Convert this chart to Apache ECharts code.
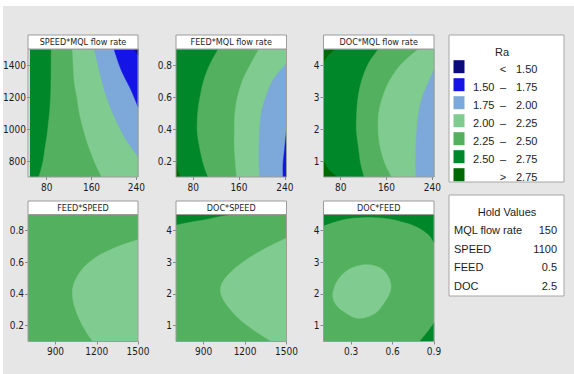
<!DOCTYPE html>
<html>
<head>
<meta charset="utf-8">
<script src="https://cdn.jsdelivr.net/npm/echarts@6/dist/echarts.min.js"></script>
<style>
  html, body { margin: 0; padding: 0; background: #fff; }
  #chart { width: 574px; height: 374px; }
</style>
</head>
<body>
<div id="chart"></div>
<script>
// contour colours, low Ra -> high Ra
const navy = "#0b0b7a", blue = "#1414e6", lblue = "#7ca8da", lgreen = "#80cb8f",
  mgreen = "#53b05e", green = "#008729", dgreen = "#006805";

// axis ranges and ticks
const mqlRange = [50, 243], speedRange = [700, 1500], feedRange = [0.1, 0.9], docRange = [0.5, 4.5];
const mqlTicks = [80, 160, 240];
const speedTicksY = [800, 1000, 1200, 1400];
const speedTicksX = [900, 1200, 1500];
const feedTicksY = [0.2, 0.4, 0.6, 0.8];
const feedTicksX = [0.3, 0.6, 0.9];
const docTicks = [1, 2, 3, 4];

const panelTitles = ["SPEED*MQL flow rate", "FEED*MQL flow rate", "DOC*MQL flow rate",
  "FEED*SPEED", "DOC*SPEED", "DOC*FEED"];

// contour boundaries, [x, y] in data units
// SPEED*MQL flow rate
const sm_25 = [[88, 1500], [87, 1200], [82, 1000], [77, 880], [73, 790], [66, 700]];
const sm_225 = [[126, 1500], [129, 1306], [134, 1200], [138.5, 1098], [146, 990], [155, 889], [166, 790], [178, 700]];
const sm_20 = [[165, 1500], [178, 1306], [187, 1200], [198, 1098], [210, 1010], [222, 931], [243, 827]];
const sm_175 = [[200, 1500], [213, 1369], [230.5, 1244], [243, 1139]];
const sm_15 = [[236, 1500], [243, 1462]];
// FEED*MQL flow rate
const fm_275 = [[50, 0.18], [54, 0.13], [58, 0.1]];
const fm_25 = [[124, 0.9], [110, 0.81], [99, 0.71], [92, 0.6], [88, 0.5], [87, 0.39], [91, 0.29], [98, 0.18], [106, 0.1]];
const fm_225 = [[195, 0.9], [181, 0.81], [167, 0.71], [157.5, 0.6], [153, 0.5], [152, 0.39], [152, 0.29], [154, 0.18], [156, 0.1]];
const fm_20 = [[243, 0.81], [220, 0.71], [207, 0.6], [199, 0.5], [196, 0.39], [195, 0.29], [195, 0.18], [196, 0.1]];
const fm_175 = [[243, 0.39], [239.5, 0.27], [237, 0.18], [237, 0.1]];
// DOC*MQL flow rate
const dm_275a = [[70, 4.5], [58, 4.3], [50, 4.1]];
const dm_275b = [[50, 1.02], [60, 0.71], [74, 0.5]];
const dm_25 = [[146, 4.5], [128.5, 4.05], [117, 3.53], [110.5, 3.01], [108, 2.49], [107.5, 1.96], [111, 1.44], [115, 0.92], [121, 0.5]];
const dm_225 = [[216, 4.5], [187, 4.05], [166, 3.53], [153.5, 3.01], [146.5, 2.49], [145.5, 1.96], [149, 1.44], [157.5, 0.92], [169, 0.5]];
const dm_20 = [[243, 3.84], [235, 3.53], [223, 3.01], [216, 2.49], [213, 1.96], [211.5, 1.44], [211, 0.92], [211.5, 0.5]];
// FEED*SPEED
const fs_225 = [[1500, 0.741], [1343, 0.695], [1197, 0.632], [1088, 0.549], [1027, 0.445], [1032, 0.341], [1076, 0.236], [1129, 0.152], [1173, 0.1]];
// DOC*SPEED
const ds_25 = [[700, 4.18], [801, 4.27], [922, 4.36], [1018, 4.45], [1090, 4.5]];
const ds_225 = [[1500, 3.76], [1355, 3.45], [1211, 3.08], [1090, 2.66], [1025, 2.24], [1042, 1.82], [1139, 1.29], [1259, 0.87], [1391, 0.5]];
// DOC*FEED
const df_25top = [[0.1, 4.15], [0.2, 4.3], [0.3, 4.39], [0.44, 4.42], [0.56, 4.38], [0.66, 4.29], [0.77, 4.13], [0.86, 3.87], [0.9, 3.62]];
const df_25low = [[0.9, 1.08], [0.857, 0.82], [0.797, 0.5]];
const df_225 = [[0.408, 2.92], [0.509, 2.82], [0.568, 2.55], [0.588, 2.19], [0.554, 1.82], [0.473, 1.39], [0.352, 1.23],
  [0.244, 1.45], [0.184, 1.71], [0.168, 2.03], [0.208, 2.46], [0.292, 2.79]];

// legend and hold values
const legendLow = ["", "1.50", "1.75", "2.00", "2.25", "2.50", ""];
const legendMid = ["<", "–", "–", "–", "–", "–", ">"];
const legendHigh = ["1.50", "1.75", "2.00", "2.25", "2.50", "2.75", "2.75"];
const legendColors = [navy, blue, lblue, lgreen, mgreen, green, dgreen];
const holdNames = ["MQL flow rate", "SPEED", "FEED", "DOC"];
const holdValues = ["150", "1100", "0.5", "2.5"];

const panels = [
  { x: mqlRange, y: speedRange, xt: mqlTicks, yt: speedTicksY, base: green,
    layers: [[sm_25, mgreen, "right"], [sm_225, lgreen, "right"], [sm_20, lblue, "right"], [sm_175, blue, "right"], [sm_15, navy, "right"]] },
  { x: mqlRange, y: feedRange, xt: mqlTicks, yt: feedTicksY, base: green,
    layers: [[fm_275, dgreen, "left"], [fm_25, mgreen, "right"], [fm_225, lgreen, "right"], [fm_20, lblue, "right"], [fm_175, blue, "right"]] },
  { x: mqlRange, y: docRange, xt: mqlTicks, yt: docTicks, base: green,
    layers: [[dm_275a, dgreen, "left"], [dm_275b, dgreen, "left"], [dm_25, mgreen, "right"], [dm_225, lgreen, "right"], [dm_20, lblue, "right"]] },
  { x: speedRange, y: feedRange, xt: speedTicksX, yt: feedTicksY, base: mgreen,
    layers: [[fs_225, lgreen, "right"]] },
  { x: speedRange, y: docRange, xt: speedTicksX, yt: docTicks, base: mgreen,
    layers: [[ds_25, green, "left"], [ds_225, lgreen, "right"]] },
  { x: feedRange, y: docRange, xt: feedTicksX, yt: docTicks, base: mgreen,
    layers: [[df_25top, green, "top"], [df_25low, green, "right"], [df_225, lgreen, "none"]] },
];

// layout in pixels
const boxes = [
  { left: 28, top: 49, width: 110, height: 128 },
  { left: 176, top: 49, width: 110.5, height: 128 },
  { left: 323.5, top: 49, width: 110.5, height: 128 },
  { left: 28, top: 214.5, width: 110, height: 127 },
  { left: 176, top: 214.5, width: 110.5, height: 127 },
  { left: 323.5, top: 214.5, width: 110.5, height: 127 },
];

const narrow = "'Liberation Sans Narrow', 'DejaVu Sans Condensed', sans-serif";
const plain = "'Liberation Sans', Arial, sans-serif";
const ink = "#1c1c1c";

const chart = echarts.init(document.getElementById("chart"), null, { renderer: "svg" });

// smooth (catmull-rom) curve through the pixel points, sampled for a polygon
function smoothPx(px, closed) {
  const n = px.length;
  if (n < 3) return px.slice();
  const get = (i) => closed ? px[(i + n) % n] : px[Math.max(0, Math.min(n - 1, i))];
  const out = [];
  const segs = closed ? n : n - 1;
  for (let i = 0; i < segs; i++) {
    const p0 = get(i - 1), p1 = get(i), p2 = get(i + 1), p3 = get(i + 2);
    const c1 = [p1[0] + (p2[0] - p0[0]) / 6, p1[1] + (p2[1] - p0[1]) / 6];
    const c2 = [p2[0] - (p3[0] - p1[0]) / 6, p2[1] - (p3[1] - p1[1]) / 6];
    for (let s = 0; s < 8; s++) {
      const t = s / 8, u = 1 - t;
      out.push([
        u * u * u * p1[0] + 3 * u * u * t * c1[0] + 3 * u * t * t * c2[0] + t * t * t * p2[0],
        u * u * u * p1[1] + 3 * u * u * t * c1[1] + 3 * u * t * t * c2[1] + t * t * t * p2[1],
      ]);
    }
  }
  if (!closed) out.push(px[n - 1]);
  return out;
}

function renderLayers(p) {
  return function (params, api) {
    const [pts, color, close] = p.layers[params.dataIndex];
    const first = pts[0], last = pts[pts.length - 1];
    let extra = [];
    if (close === "right") extra = [[p.x[1], last[1]], [p.x[1], first[1]]];
    if (close === "left") extra = [[p.x[0], last[1]], [p.x[0], first[1]]];
    if (close === "top") extra = [[last[0], p.y[1]], [first[0], p.y[1]]];
    const curve = smoothPx(pts.map((d) => api.coord(d)), close === "none");
    return {
      type: "polygon",
      shape: { points: curve.concat(extra.map((d) => api.coord(d))) },
      style: { fill: color, stroke: color, lineWidth: 0.5 },
    };
  };
}

const grid = [], xAxis = [], yAxis = [], series = [];
const graphic = [
  { type: "rect", shape: { x: 0, y: 0, width: 574, height: 6 }, style: { fill: "#fff" } },
  { type: "rect", shape: { x: 0, y: 0, width: 3, height: 374 }, style: { fill: "#fff" } },
];

panels.forEach((p, i) => {
  const b = boxes[i];
  grid.push({ left: b.left, top: b.top, width: b.width, height: b.height, show: true,
    backgroundColor: p.base, borderWidth: 0 });
  const labelStyle = { fontFamily: narrow, fontSize: 10, color: ink, formatter: (v) => String(v) };
  xAxis.push({ type: "value", gridIndex: i, min: p.x[0], max: p.x[1], splitLine: { show: false },
    axisLine: { show: false },
    axisTick: { show: true, length: 3, lineStyle: { color: "#8a8a8a" }, customValues: p.xt },
    axisLabel: Object.assign({ margin: 5, customValues: p.xt, showMinLabel: true, showMaxLabel: true }, labelStyle) });
  yAxis.push({ type: "value", gridIndex: i, min: p.y[0], max: p.y[1], splitLine: { show: false },
    axisLine: { show: false },
    axisTick: { show: true, length: 3, lineStyle: { color: "#8a8a8a" }, customValues: p.yt },
    axisLabel: Object.assign({ margin: 4, customValues: p.yt }, labelStyle) });
  series.push({ type: "custom", xAxisIndex: i, yAxisIndex: i, clip: true, silent: true,
    renderItem: renderLayers(p), data: p.layers.map((l) => l[0][0]) });

  // plot frame and panel header
  const th = i < 3 ? 14 : 13.5;
  graphic.push({ type: "rect", z: 100, silent: true,
    shape: { x: b.left, y: b.top, width: b.width, height: b.height },
    style: { fill: "none", stroke: "#9c9c9c", lineWidth: 1 } });
  graphic.push({ type: "rect", z: 100, silent: true,
    shape: { x: b.left, y: b.top - th, width: b.width, height: th },
    style: { fill: "#fff", stroke: "#9c9c9c", lineWidth: 1 } });
  graphic.push({ type: "text", z: 101, silent: true, x: b.left + b.width / 2, y: b.top - th / 2,
    style: { text: panelTitles[i], font: "9px " + narrow, fill: ink, align: "center", verticalAlign: "middle" } });
});

// Ra legend
graphic.push({ type: "rect", z: 100, shape: { x: 449, y: 35, width: 115, height: 147 },
  style: { fill: "#fff", stroke: "#a6a6a6", lineWidth: 1 } });
graphic.push({ type: "text", z: 101, x: 502, y: 52,
  style: { text: "Ra", font: "11px " + plain, fill: ink, align: "center", verticalAlign: "middle" } });
legendColors.forEach((c, k) => {
  const cy = 66.7 + k * 18;
  graphic.push({ type: "rect", z: 101, shape: { x: 453.5, y: cy - 6.5, width: 11, height: 13 }, style: { fill: c } });
  const ty = cy + 2;
  graphic.push({ type: "text", z: 101, x: 473, y: ty,
    style: { text: legendLow[k], font: "11px " + plain, fill: ink, align: "left", verticalAlign: "middle" } });
  graphic.push({ type: "text", z: 101, x: 503, y: ty,
    style: { text: legendMid[k], font: "11px " + plain, fill: ink, align: "center", verticalAlign: "middle" } });
  graphic.push({ type: "text", z: 101, x: 516, y: ty,
    style: { text: legendHigh[k], font: "11px " + plain, fill: ink, align: "left", verticalAlign: "middle" } });
});

// hold values box
graphic.push({ type: "rect", z: 100, shape: { x: 449, y: 195, width: 115, height: 101 },
  style: { fill: "#fff", stroke: "#a6a6a6", lineWidth: 1 } });
graphic.push({ type: "text", z: 101, x: 507, y: 212,
  style: { text: "Hold Values", font: "11px " + plain, fill: ink, align: "center", verticalAlign: "middle" } });
holdNames.forEach((n, k) => {
  const ty = 230 + k * 18.7;
  graphic.push({ type: "text", z: 101, x: 454, y: ty,
    style: { text: n, font: "11px " + plain, fill: ink, align: "left", verticalAlign: "middle" } });
  graphic.push({ type: "text", z: 101, x: 557, y: ty,
    style: { text: holdValues[k], font: "11px " + plain, fill: ink, align: "right", verticalAlign: "middle" } });
});

chart.setOption({
  backgroundColor: "#e6e6e6",
  animation: false,
  grid, xAxis, yAxis, series, graphic,
});
</script>
</body>
</html>
